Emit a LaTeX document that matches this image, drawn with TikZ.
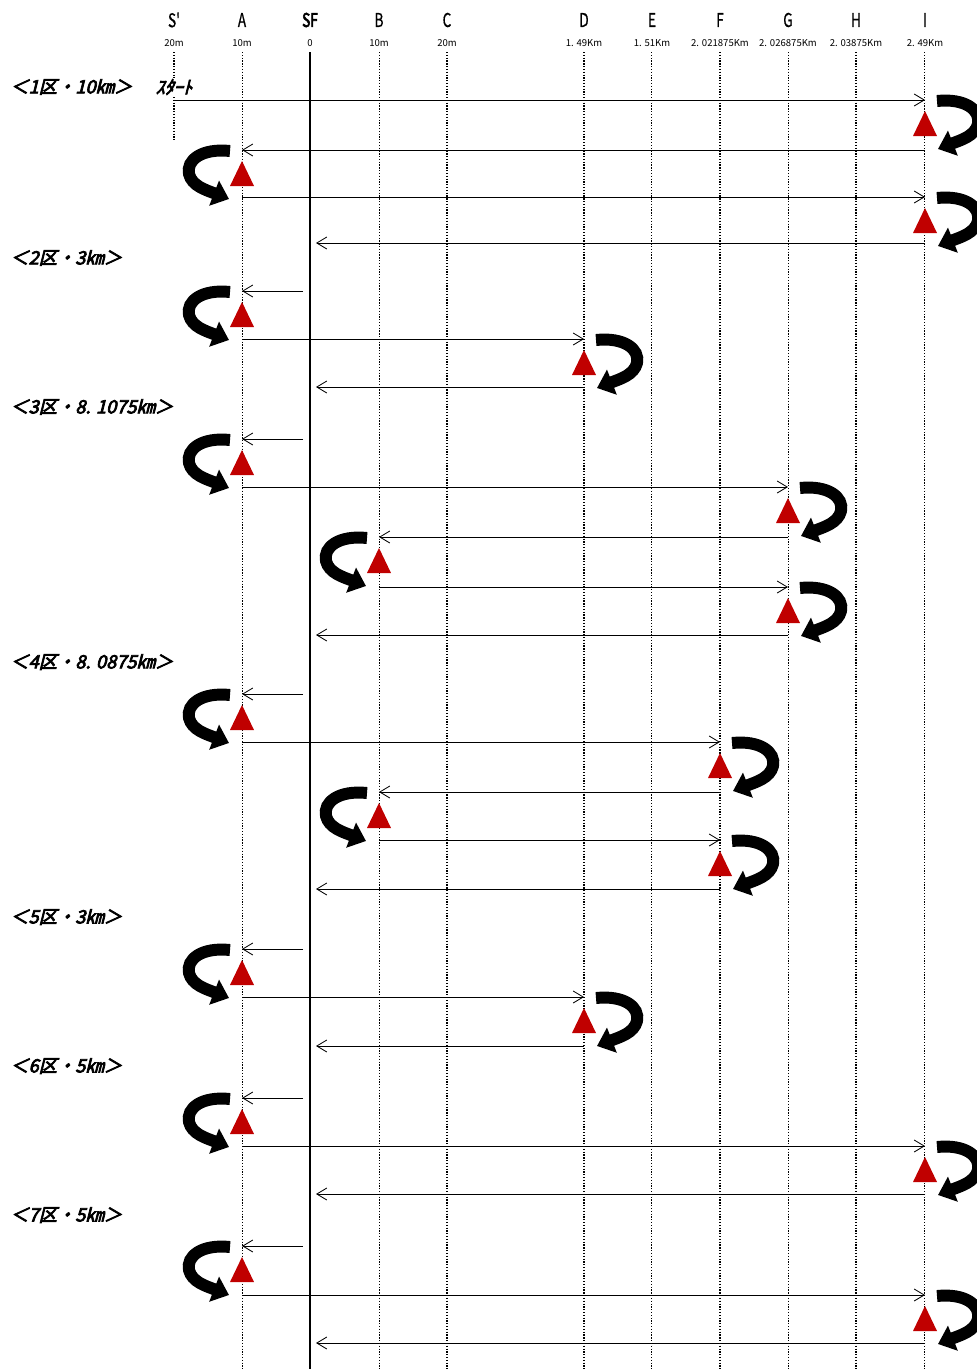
\documentclass[tikz,border=0pt]{standalone}
\usepackage{fontspec}
\newfontfamily\jp{Noto Sans CJK JP}
\newfontfamily\jpnarrow[FakeStretch=0.72,FakeBold=0.6]{Noto Sans CJK JP}
\newfontfamily\jpnarrowbold[FakeStretch=0.72,FakeBold=3]{Noto Sans CJK JP}
\newfontfamily\jpsec[FakeSlant=0.25,FakeBold=4]{Noto Sans CJK JP}
\usetikzlibrary{arrows.meta}
\definecolor{conered}{HTML}{C00000}

\begin{document}
	\begin{tikzpicture}
		[x=0.025cm, y=-0.025cm,
		every node/.style={inner sep=0pt},
		col/.style={font=\jpnarrow\fontsize{13.5}{13.5}\selectfont},
		dist/.style={font=\jp\fontsize{6.8}{6.8}\selectfont},
		sec/.style={font=\jpsec\fontsize{13}{13}\selectfont, anchor=west},
		course/.style={line width=0.6pt, dash pattern=on 0.9pt off 1.1pt},
		leg/.style={-{Straight Barb[length=2.5mm,width=3mm]}, line width=0.6pt},
		turn/.style={line width=8.5pt, -{Triangle[length=4mm,width=6.5mm]}},
		cone/.style={fill=conered},
		uturn/.pic={
			\draw[turn] (-12,1) .. controls (-40,-2) and (-56,10) .. (-53,24)
				.. controls (-50,36) and (-36,40) .. (-13,49);
			\fill[cone] (0,11) -- (12,36) -- (-12,36) -- cycle;
		},
		]

		\useasboundingbox (0,0) rectangle (976,1369);

		% Spalten
		\foreach \n/\x/\lab/\d in {Sd/174/S'/20m, A/242/A/10m, B/379/B/10m, C/447/C/20m,
			D/584/D/1. 49Km, E/652/E/1. 51Km, F/720/F/2. 021875Km, G/788/G/2. 026875Km,
			H/856/H/2. 03875Km, I/925/I/2. 49Km}{
			\node[col] (h\n) at (\x,20) {\lab};
			\node[dist] (d\n) at (\x,43) {\d};
			\coordinate (\n) at (\x,52);
		}
		\node[col, font=\jpnarrowbold\fontsize{13.5}{13.5}\selectfont] (hSF) at (310,20) {SF};
		\node[dist] (dSF) at (310,43) {0};
		\coordinate (SF) at (310,52);
		\coordinate (SFl) at (303,52);
		\coordinate (SFr) at (316,52);

		\foreach \n in {A,B,G}
			\draw[course] (\n) -- (\n |- 0,1369);
		\foreach \n in {C,D,F,H}
			\draw[course, line width=0.9pt] (\n) -- (\n |- 0,1369);
		\foreach \n in {E,I}
			\draw[course, double, double distance=0.7pt, line width=0.4pt] (\n) -- (\n |- 0,1369);
		\draw[course, line width=0.9pt] (Sd) -- (Sd |- 0,140);
		\draw[line width=1.6pt] (SF) -- (SF |- 0,1369);

		% Abschnitte
		\node[sec] (s1) at (10,87) {＜1区・10㎞＞};
		\node[sec, fill=white, inner sep=1pt] (start) at (154,87) {ｽﾀｰﾄ};
		\node[sec] (s2) at (10,258) {＜2区・3㎞＞};
		\node[sec] (s3) at (10,407) {＜3区・8. 1075㎞＞};
		\node[sec] (s4) at (10,662) {＜4区・8. 0875㎞＞};
		\node[sec] (s5) at (10,917) {＜5区・3㎞＞};
		\node[sec] (s6) at (10,1066) {＜6区・5㎞＞};
		\node[sec] (s7) at (10,1215) {＜7区・5㎞＞};

		\foreach \y/\a/\b in {100/Sd/I, 150/I/A, 197/A/I, 243/I/SFr,
			291/SFl/A, 339/A/D, 387/D/SFr,
			439/SFl/A, 487/A/G, 537/G/B, 587/B/G, 635/G/SFr,
			694/SFl/A, 742/A/F, 792/F/B, 840/B/F, 889/F/SFr,
			949/SFl/A, 997/A/D, 1046/D/SFr,
			1098/SFl/A, 1146/A/I, 1194/I/SFr,
			1246/SFl/A, 1295/A/I, 1343/I/SFr}
			\draw[leg] (\a |- 0,\y) -- (\b |- 0,\y);

		% Wendepunkte
		\foreach \n/\y/\s in {I/100/-1, A/150/1, I/197/-1, A/291/1, D/339/-1,
			A/439/1, G/487/-1, B/537/1, G/587/-1,
			A/694/1, F/742/-1, B/792/1, F/840/-1,
			A/949/1, D/997/-1, A/1098/1, I/1146/-1, A/1246/1, I/1295/-1}
			\pic[xscale=\s] at (\n |- 0,\y) {uturn};
	\end{tikzpicture}
\end{document}
